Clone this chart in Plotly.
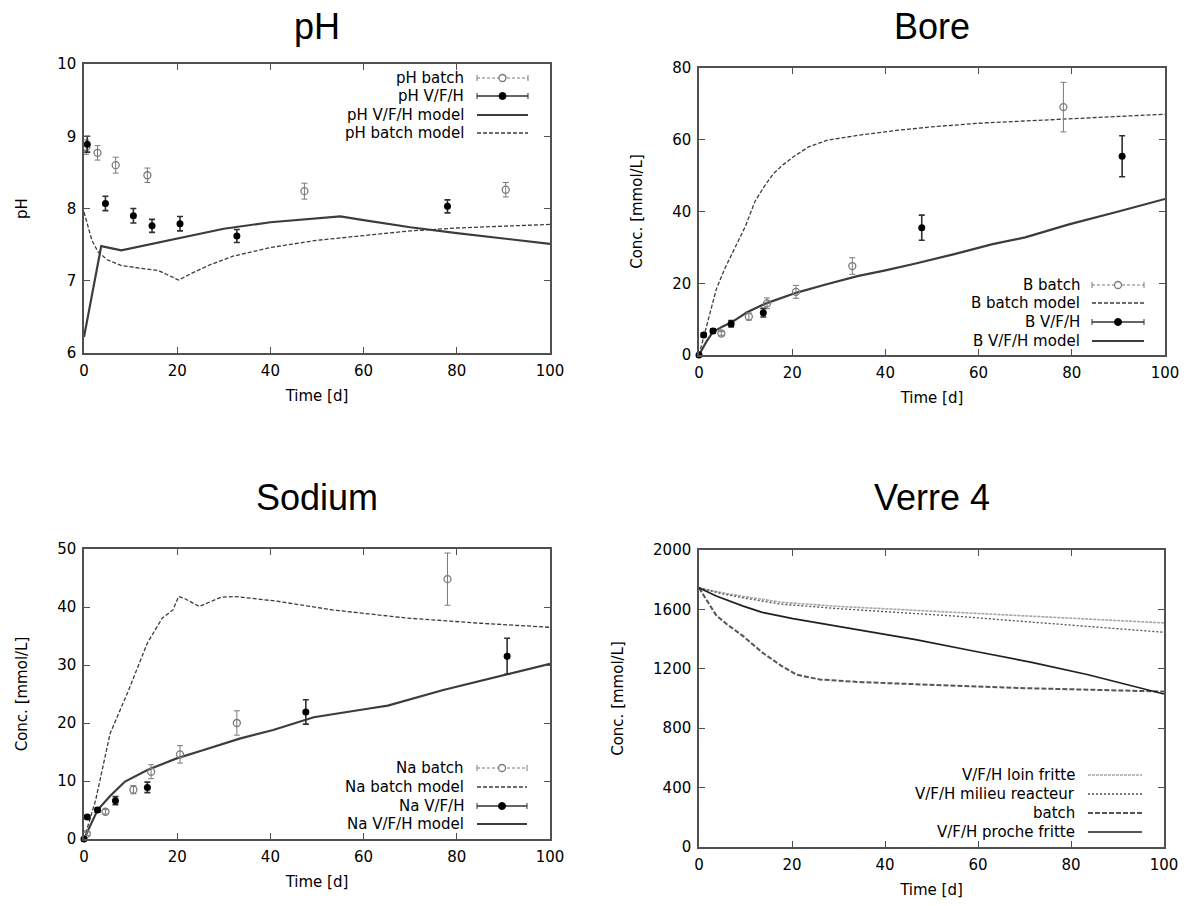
import plotly.graph_objects as go

W, H = 1192, 906
FONT = "DejaVu Sans"
TITLE_FONT = "Liberation Sans"

# ---------------- data ----------------
# pH panel
ph_batch_t = [0.5, 2.9, 6.8, 13.6, 47.3, 90.5]
ph_batch_v = [8.85, 8.77, 8.60, 8.46, 8.24, 8.26]
ph_batch_e = [0.10, 0.10, 0.11, 0.10, 0.11, 0.10]
ph_vfh_t = [0.7, 4.6, 10.6, 14.6, 20.6, 32.8, 78.0]
ph_vfh_v = [8.89, 8.07, 7.90, 7.76, 7.79, 7.62, 8.03]
ph_vfh_e = [0.11, 0.10, 0.10, 0.09, 0.10, 0.09, 0.09]
ph_vfh_model_t = [0, 3.7, 8, 14, 20, 30, 40, 50, 55, 60, 70, 80, 90, 100]
ph_vfh_model_v = [6.22, 7.48, 7.42, 7.50, 7.59, 7.72, 7.81, 7.87, 7.89, 7.84, 7.74, 7.66, 7.58, 7.51]
ph_batch_model_t = [0, 0.8, 1.7, 3, 5, 8, 12, 16, 18, 20.3, 23, 27, 32, 40, 50, 60, 70, 80, 90, 100]
ph_batch_model_v = [7.95, 7.75, 7.56, 7.40, 7.29, 7.21, 7.17, 7.14, 7.08, 7.01, 7.10, 7.22, 7.34,
                    7.46, 7.56, 7.63, 7.69, 7.73, 7.76, 7.78]

# Bore panel
b_batch_t = [4.8, 10.7, 14.6, 20.8, 32.9, 78.2]
b_batch_v = [6.0, 10.7, 14.4, 17.6, 24.8, 69.1]
b_batch_e = [0.5, 1.0, 1.5, 1.8, 2.3, 6.9]
b_vfh_t = [0, 1.0, 3.0, 6.9, 13.8, 47.8, 90.8]
b_vfh_v = [0, 5.6, 6.7, 8.7, 11.8, 35.5, 55.4]
b_vfh_e = [0.3, 0.5, 0.6, 0.9, 1.2, 3.5, 5.7]
b_batch_model_t = [0, 2, 3.7, 5.5, 7.8, 10, 12, 14, 16, 18, 20.2, 23.5, 27.6, 34, 42.4, 50, 60, 70, 80, 90, 100]
b_batch_model_v = [0, 10, 18.3, 24, 30.3, 36, 42.8, 47, 50.6, 53, 55.2, 58, 59.9, 61.2, 62.6,
                   63.6, 64.6, 65.3, 65.9, 66.5, 67.1]
b_vfh_model_t = [0, 1.5, 2.9, 5, 7, 10.3, 14.4, 21, 27, 34, 40, 46.5, 55, 63, 70, 79.4, 90, 100]
b_vfh_model_v = [0, 3.5, 6.3, 7.9, 9.1, 11.9, 14.4, 17.4, 19.6, 22, 23.6, 25.5, 28.2, 30.9, 32.8,
                 36.4, 40, 43.5]

# Sodium panel
na_batch_t = [0.6, 4.6, 10.6, 14.4, 20.6, 32.8, 78.0]
na_batch_v = [0.9, 4.7, 8.5, 11.6, 14.6, 20.0, 44.8]
na_batch_e = [0.3, 0.4, 0.7, 1.2, 1.5, 2.1, 4.5]
na_vfh_t = [0, 0.7, 2.9, 6.75, 13.6, 47.6, 90.8]
na_vfh_v = [0, 3.8, 5.0, 6.6, 8.9, 21.9, 31.5]
na_vfh_e = [0.2, 0.3, 0.4, 0.7, 0.9, 2.1, 3.1]
na_batch_model_t = [0, 2.5, 5.6, 9.6, 13.6, 16.8, 19.1, 20.3, 21.5, 24.7, 29.5, 32.6, 41.4, 53.3,
                    69.2, 85, 100]
na_batch_model_v = [0, 6.7, 18.2, 25.7, 33.8, 38.1, 39.5, 41.8, 41.5, 40.1, 41.7, 41.8, 41.0, 39.5,
                    38.1, 37.2, 36.5]
na_vfh_model_t = [0, 2.9, 5.6, 8.8, 13.6, 19.9, 25.5, 33.4, 40.6, 49.3, 61.2, 65.2, 77.1, 89, 100]
na_vfh_model_v = [0, 5.0, 7.4, 9.9, 11.9, 13.9, 15.3, 17.3, 18.8, 21.0, 22.5, 23.0, 25.7, 28.0, 30.2]

# Verre 4 panel
v_loin_t = [0, 5, 10, 17.7, 30, 42.5, 55, 67.2, 80, 90, 100]
v_loin_v = [1745, 1712, 1685, 1648, 1620, 1600, 1582, 1565, 1545, 1528, 1509]
v_milieu_t = [0, 5, 10, 17.7, 30, 42.5, 55, 67.2, 80, 90, 100]
v_milieu_v = [1745, 1705, 1675, 1635, 1605, 1580, 1555, 1525, 1495, 1472, 1446]
v_batch_t = [0, 2, 3.7, 6, 9.5, 13.6, 17.7, 21, 26, 35, 42.5, 55, 67.2, 80, 90, 100]
v_batch_v = [1745, 1650, 1560, 1500, 1420, 1310, 1220, 1160, 1128, 1110, 1100, 1085, 1072, 1062,
             1055, 1047]
v_proche_t = [0, 3.7, 9.5, 13.6, 20.2, 34.2, 46.6, 59, 71.3, 83.7, 100]
v_proche_v = [1745, 1690, 1622, 1580, 1538, 1464, 1396, 1320, 1245, 1160, 1030]

titles = ["pH", "Bore", "Sodium", "Verre 4"]
y_titles = ["pH", "Conc. [mmol/L]", "Conc. [mmol/L]", "Conc. [mmol/L]"]
x_title = "Time [d]"

# ---------------- styles ----------------
GRAY = "#7a7a7a"
DARK = "#3c3c3c"
BATCH_PT = dict(mode="markers", marker=dict(symbol="circle-open", size=7, color=GRAY,
                                            line=dict(width=1.3, color=GRAY)))
VFH_PT = dict(mode="markers", marker=dict(symbol="circle", size=7, color="black"))
VFH_MODEL = dict(mode="lines", line=dict(color=DARK, width=2.2))
BATCH_MODEL = dict(mode="lines", line=dict(color=DARK, width=1.3, dash="4px,2px"))

V_LOIN = dict(mode="lines", line=dict(color="#a6a6a6", width=1.6, dash="3px,1px"))
V_MILIEU = dict(mode="lines", line=dict(color="#505050", width=1.3, dash="2px,2px"))
V_BATCH = dict(mode="lines", line=dict(color="#555555", width=2.0, dash="5px,2px"))
V_PROCHE = dict(mode="lines", line=dict(color="#202020", width=1.7))

# panel boxes in pixels (left, top, right, bottom)
boxes = [(84, 64, 550, 353), (699, 68, 1165, 355), (84, 549, 550, 839), (699, 550, 1164, 847)]
yranges = [[6, 10], [0, 80], [0, 50], [0, 2000]]
ydticks = [1, 20, 10, 400]

fig = go.Figure()


def add(i, x, y, style, err=None):
    sfx = "" if i == 0 else str(i + 1)
    kw = dict(style)
    tr = go.Scatter(x=x, y=y, xaxis="x" + sfx, yaxis="y" + sfx, showlegend=False, **kw)
    if err is not None:
        col = kw["marker"]["color"] if kw["marker"]["color"] != "black" else "#303030"
        thick = 1.0 if col == GRAY else 1.6
        tr.update(error_y=dict(type="data", array=err, visible=True, color=col,
                               thickness=thick, width=3), cliponaxis=False)
    fig.add_trace(tr)


# pH
add(0, ph_vfh_model_t, ph_vfh_model_v, VFH_MODEL)
add(0, ph_batch_model_t, ph_batch_model_v, BATCH_MODEL)
add(0, ph_batch_t, ph_batch_v, BATCH_PT, ph_batch_e)
add(0, ph_vfh_t, ph_vfh_v, VFH_PT, ph_vfh_e)
# Bore
add(1, b_vfh_model_t, b_vfh_model_v, VFH_MODEL)
add(1, b_batch_model_t, b_batch_model_v, BATCH_MODEL)
add(1, b_batch_t, b_batch_v, BATCH_PT, b_batch_e)
add(1, b_vfh_t, b_vfh_v, VFH_PT, b_vfh_e)
# Sodium
add(2, na_vfh_model_t, na_vfh_model_v, VFH_MODEL)
add(2, na_batch_model_t, na_batch_model_v, BATCH_MODEL)
add(2, na_batch_t, na_batch_v, BATCH_PT, na_batch_e)
add(2, na_vfh_t, na_vfh_v, VFH_PT, na_vfh_e)
# Verre 4
add(3, v_loin_t, v_loin_v, V_LOIN)
add(3, v_milieu_t, v_milieu_v, V_MILIEU)
add(3, v_batch_t, v_batch_v, V_BATCH)
add(3, v_proche_t, v_proche_v, V_PROCHE)

layout = dict(width=W, height=H, margin=dict(l=0, r=0, t=0, b=0),
              paper_bgcolor="white", plot_bgcolor="white",
              font=dict(family=FONT, size=15, color="black"), showlegend=False)

annotations = []
shapes = []
for i, (L, T, R, B) in enumerate(boxes):
    sfx = "" if i == 0 else str(i + 1)
    common = dict(ticks="inside", ticklen=6, tickcolor="#505050", mirror="allticks",
                  showline=True, linecolor="#505050", linewidth=1.5, showgrid=False,
                  zeroline=False, tickfont=dict(family=FONT, size=15, color="black"),
                  automargin=False)
    layout["xaxis" + sfx] = dict(domain=[L / W, R / W], range=[0, 100], dtick=20, tick0=0,
                                 anchor="y" + sfx, ticklabelstandoff=3,
                                 title=dict(text=x_title, standoff=12,
                                            font=dict(family=FONT, size=15)), **common)
    layout["yaxis" + sfx] = dict(domain=[1 - B / H, 1 - T / H], range=yranges[i],
                                 dtick=ydticks[i], tick0=0, anchor="x" + sfx,
                                 ticklabelstandoff=3,
                                 title=dict(text=y_titles[i], standoff=26,
                                            font=dict(family=FONT, size=15)), **common)
    # panel title
    ty = 26 if i < 2 else 497
    annotations.append(dict(text=titles[i], x=(L + R) / 2 / W, y=1 - ty / H, xref="paper",
                            yref="paper", xanchor="center", yanchor="middle", showarrow=False,
                            font=dict(family=TITLE_FONT, size=36, color="black")))


# ---------------- gnuplot-style keys (text on the left, sample on the right) -------------
def px(x, y):
    return x / W, 1 - y / H


def key_row(label, y, text_r, x1, x2, kind, line):
    tx, ty = px(text_r, y)
    annotations.append(dict(text=label, x=tx, y=ty, xref="paper", yref="paper",
                            xanchor="right", yanchor="middle", showarrow=False,
                            font=dict(family=FONT, size=15, color="black")))
    a = px(x1, y)
    b = px(x2, y)
    shapes.append(dict(type="line", xref="paper", yref="paper", x0=a[0], y0=a[1], x1=b[0],
                       y1=b[1], line=line))
    if kind in ("batch", "vfh"):
        for xe in (x1, x2):
            p0 = px(xe, y - 3)
            p1 = px(xe, y + 3)
            shapes.append(dict(type="line", xref="paper", yref="paper", x0=p0[0], y0=p0[1],
                               x1=p1[0], y1=p1[1], line=dict(color=line["color"], width=1)))
        xm = (x1 + x2) / 2
        c0 = px(xm - 3.5, y - 3.5)
        c1 = px(xm + 3.5, y + 3.5)
        if kind == "batch":
            shapes.append(dict(type="circle", xref="paper", yref="paper", x0=c0[0], y0=c0[1],
                               x1=c1[0], y1=c1[1], fillcolor="white",
                               line=dict(color=GRAY, width=1.3)))
        else:
            shapes.append(dict(type="circle", xref="paper", yref="paper", x0=c0[0], y0=c0[1],
                               x1=c1[0], y1=c1[1], fillcolor="black",
                               line=dict(color="black", width=1)))


L_BATCH_ERR = dict(color=GRAY, width=1, dash="3px,2px")
L_VFH_ERR = dict(color="#303030", width=1.6)

keys = [
    (466, 477, 528, [78, 96, 115, 133],
     [("pH batch", "batch", L_BATCH_ERR), ("pH V/F/H", "vfh", L_VFH_ERR),
      ("pH V/F/H model", "line", VFH_MODEL["line"]), ("pH batch model", "line", BATCH_MODEL["line"])]),
    (1082, 1092, 1144, [285, 303, 322, 341],
     [("B batch", "batch", L_BATCH_ERR), ("B batch model", "line", BATCH_MODEL["line"]),
      ("B V/F/H", "vfh", L_VFH_ERR), ("B V/F/H model", "line", VFH_MODEL["line"])]),
    (466, 477, 527, [768, 787, 806, 824],
     [("Na batch", "batch", L_BATCH_ERR), ("Na batch model", "line", BATCH_MODEL["line"]),
      ("Na V/F/H", "vfh", L_VFH_ERR), ("Na V/F/H model", "line", VFH_MODEL["line"])]),
    (1077, 1088, 1142, [775, 794, 813, 832],
     [("V/F/H loin fritte", "line", V_LOIN["line"]), ("V/F/H milieu reacteur", "line", V_MILIEU["line"]),
      ("batch", "line", V_BATCH["line"]), ("V/F/H proche fritte", "line", V_PROCHE["line"])]),
]
for text_r, x1, x2, ys, rows in keys:
    for (label, kind, line), y in zip(rows, ys):
        key_row(label, y, text_r, x1, x2, kind, line)

layout["annotations"] = annotations
layout["shapes"] = shapes
fig.update_layout(**layout)
# remove the default 8px page margin so the figure sits at the window's top-left corner
fig.write_html("out.html", config={"displayModeBar": False},
               post_script="document.body.style.margin='0';document.body.style.overflow='hidden';")
